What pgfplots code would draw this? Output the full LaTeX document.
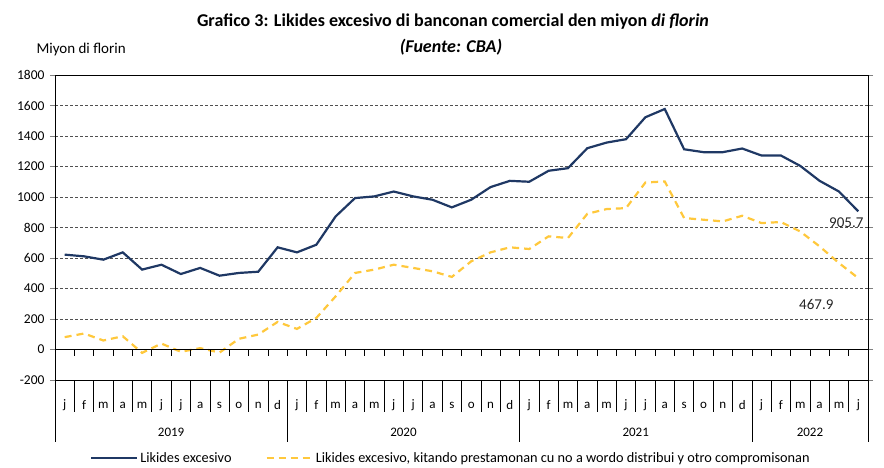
\documentclass[border=0pt]{standalone}
\usepackage{fontspec}
\setmainfont{Carlito}
\usepackage{pgfplots}
\pgfplotsset{compat=1.18}
\definecolor{navy}{RGB}{31,56,100}
\definecolor{gold}{RGB}{255,200,60}
\definecolor{gridc}{RGB}{80,80,80}

\begin{document}
\begin{tikzpicture}[x=1pt,y=1pt]
\path (0,0) rectangle (884,465);
% titles
\node[font=\fontsize{18}{20}\selectfont\bfseries] at (453,443)
  {Grafico 3: Likides excesivo di banconan comercial den miyon \textit{di florin}};
\node[font=\fontsize{18}{20}\selectfont\bfseries\itshape] at (451,418) {(Fuente: CBA)};
\node[font=\fontsize{15}{17}\selectfont, anchor=west] at (33,415) {Miyon di florin};

\begin{axis}[
  at={(55pt,85pt)}, anchor=south west,
  scale only axis, width=813pt, height=305pt,
  xmin=-0.5, xmax=41.5, ymin=-200, ymax=1800,
  ytick={-200,0,...,1800},
  xtick={0,...,41},
  xticklabels={j,f,m,a,m,j,j,a,s,o,n,d,j,f,m,a,m,j,j,a,s,o,n,d,j,f,m,a,m,j,j,a,s,o,n,d,j,f,m,a,m,j},
  xtick style={draw=none},
  xticklabel style={anchor=center, yshift=-20pt, font=\fontsize{13}{15}\selectfont},
  yticklabel style={font=\fontsize{13.5}{15}\selectfont, xshift=-2pt},
  ymajorgrids, grid style={dash pattern=on 3pt off 2pt, gridc, line width=0.8pt},
  tick align=outside, major tick length=5pt,
  /pgf/number format/1000 sep={}, /pgf/number format/assume math mode=true,
  axis line style={black, line width=0.7pt},
  clip=false,
  legend style={at={(0.487,-0.256)}, anchor=center, draw=none, fill=none,
    legend columns=2, font=\fontsize{14.3}{16}\selectfont,
    /tikz/every even column/.append style={column sep=32pt}},
  legend image code/.code={\draw[#1] (0pt,0pt) -- (46pt,0pt);},
]
\addplot[navy, line width=2.2pt] coordinates {
(0,622)(1,611)(2,589)(3,637)(4,524)(5,556)(6,495)(7,535)(8,484)(9,502)(10,510)(11,670)
(12,637)(13,687)(14,873)(15,993)(16,1004)(17,1036)(18,1004)(19,982)(20,932)(21,982)(22,1065)(23,1106)
(24,1100)(25,1172)(26,1189)(27,1320)(28,1357)(29,1379)(30,1523)(31,1577)(32,1313)(33,1294)(34,1294)(35,1318)
(36,1272)(37,1272)(38,1204)(39,1106)(40,1036)(41,905.7)};
\addlegendentry{Likides excesivo}
\addplot[gold, line width=2.2pt, dash pattern=on 7pt off 5pt] coordinates {
(0,81)(1,105)(2,59)(3,87)(4,-22)(5,39)(6,-15)(7,9)(8,-20)(9,70)(10,98)(11,181)
(12,135)(13,207)(14,349)(15,502)(16,524)(17,556)(18,535)(19,513)(20,476)(21,578)(22,637)(23,670)
(24,659)(25,742)(26,731)(27,890)(28,921)(29,927)(30,1095)(31,1102)(32,862)(33,851)(34,840)(35,877)
(36,829)(37,836)(38,774)(39,676)(40,567)(41,467.9)};
\addlegendentry{Likides excesivo, kitando prestamonan cu no a wordo distribui y otro compromisonan}

% frame and x axis line at zero with ticks between months
\draw[black, line width=0.7pt] (axis cs:-0.5,-200) rectangle (axis cs:41.5,1800);
\draw[black, line width=0.7pt] (axis cs:-0.5,0) -- (axis cs:41.5,0);
\pgfplotsinvokeforeach{0,...,40}{\draw[black, line width=0.7pt] (axis cs:#1+0.5,0) -- ++(0pt,-6pt);}
% category table below the plot
\pgfplotsinvokeforeach{0,...,10,12,13,...,22,24,25,...,34,36,37,...,40}{\draw[black, line width=0.6pt] (axis cs:#1+0.5,-200) -- ++(0pt,-32pt);}
\pgfplotsinvokeforeach{-0.5,11.5,23.5,35.5,41.5}{\draw[black, line width=0.6pt] (axis cs:#1,-200) -- ++(0pt,-62pt);}
\node[font=\fontsize{13}{15}\selectfont] at (axis cs:5.5,-200) [yshift=-52pt] {2019};
\node[font=\fontsize{13}{15}\selectfont] at (axis cs:17.5,-200) [yshift=-52pt] {2020};
\node[font=\fontsize{13}{15}\selectfont] at (axis cs:29.5,-200) [yshift=-52pt] {2021};
\node[font=\fontsize{13}{15}\selectfont] at (axis cs:38.5,-200) [yshift=-52pt] {2022};
% value labels
\node[font=\fontsize{15}{17}\selectfont, text=black!85] at (axis cs:41,905.7) [xshift=-12pt, yshift=-11pt] {905.7};
\node[font=\fontsize{15}{17}\selectfont, text=black!85] at (axis cs:41,467.9) [xshift=-42pt, yshift=-26pt] {467.9};
\end{axis}
\end{tikzpicture}
\end{document}
